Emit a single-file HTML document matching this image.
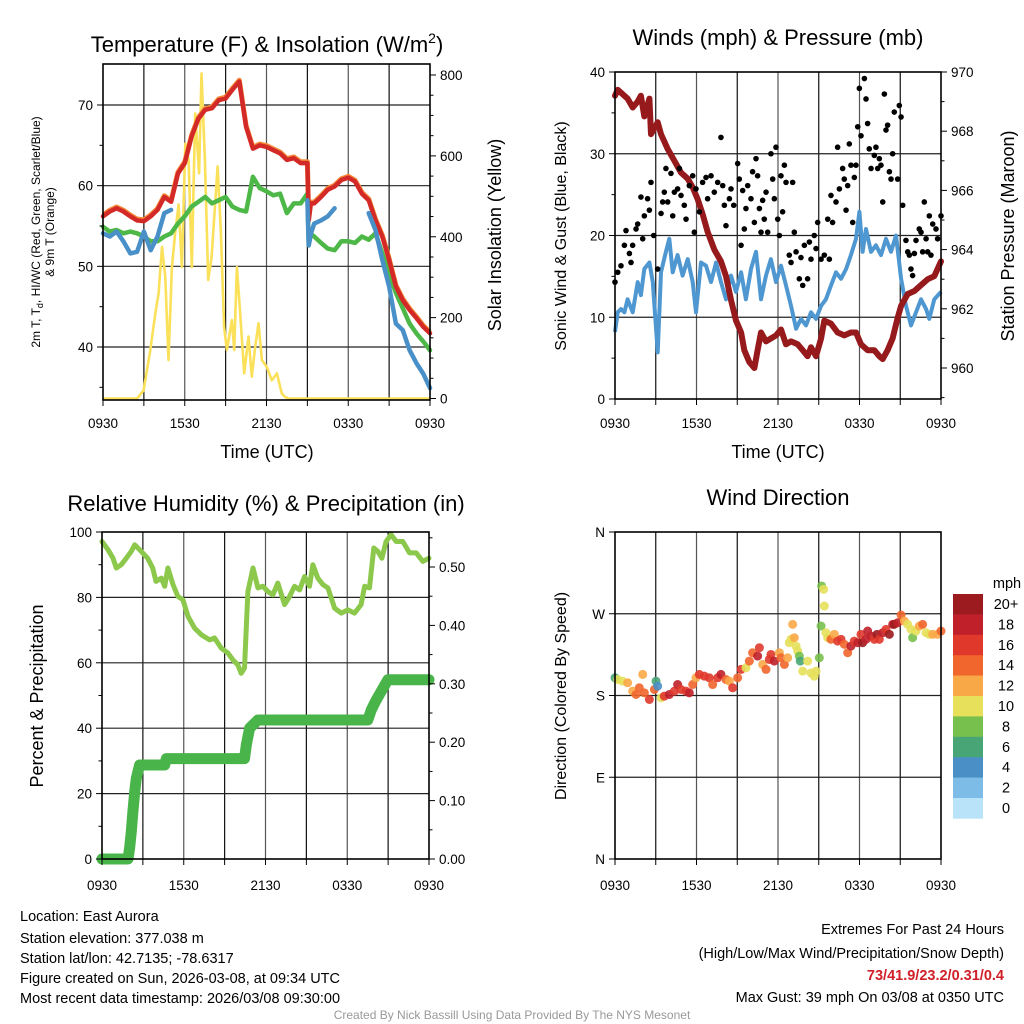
<!DOCTYPE html>
<html><head><meta charset="utf-8"><style>
body{margin:0;background:#fff}
svg{display:block;font-family:"Liberation Sans",Arial,sans-serif}
</style></head><body>
<svg id="s" width="1024" height="1024" viewBox="0 0 1024 1024" xmlns="http://www.w3.org/2000/svg">
<g id="bg"></g>
<text x="267" y="52" font-size="22" text-anchor="middle">Temperature (F) &amp; Insolation (W/m<tspan dy="-9" font-size="14">2</tspan><tspan dy="9">)</tspan></text>
<text x="778" y="45" font-size="22" text-anchor="middle">Winds (mph) &amp; Pressure (mb)</text>
<text x="266" y="511" font-size="22" text-anchor="middle">Relative Humidity (%) &amp; Precipitation (in)</text>
<text x="778" y="505" font-size="22" text-anchor="middle">Wind Direction</text>
<text x="267" y="458" font-size="18" text-anchor="middle">Time (UTC)</text>
<text x="778" y="458" font-size="18" text-anchor="middle">Time (UTC)</text>
<text transform="translate(40,232) rotate(-90)" font-size="12" text-anchor="middle">2m T, T<tspan dy="3" font-size="9">d</tspan><tspan dy="-3">, HI/WC (Red, Green, Scarlet/Blue)</tspan></text>
<text transform="translate(54,232) rotate(-90)" font-size="12" text-anchor="middle">&amp; 9m T (Orange)</text>
<text transform="translate(501,235) rotate(-90)" font-size="18" text-anchor="middle">Solar Insolation (Yellow)</text>
<text transform="translate(566,236) rotate(-90)" font-size="16" text-anchor="middle">Sonic Wind &amp; Gust (Blue, Black)</text>
<text transform="translate(1014,236) rotate(-90)" font-size="18" text-anchor="middle">Station Pressure (Maroon)</text>
<text transform="translate(43,696) rotate(-90)" font-size="18" text-anchor="middle">Percent &amp; Precipitation</text>
<text transform="translate(566,696) rotate(-90)" font-size="16" text-anchor="middle">Direction (Colored By Speed)</text>
<g font-size="14.5">
<text x="20" y="921">Location: East Aurora</text>
<text x="20" y="943">Station elevation: 377.038 m</text>
<text x="20" y="963">Station lat/lon: 42.7135; -78.6317</text>
<text x="20" y="983">Figure created on Sun, 2026-03-08, at 09:34 UTC</text>
<text x="20" y="1003">Most recent data timestamp: 2026/03/08 09:30:00</text>
</g>
<g font-size="14.5" text-anchor="end">
<text x="1004" y="934">Extremes For Past 24 Hours</text>
<text x="1004" y="958">(High/Low/Max Wind/Precipitation/Snow Depth)</text>
<text x="1004" y="980" fill="#d0202a" font-weight="bold">73/41.9/23.2/0.31/0.4</text>
<text x="1004" y="1002">Max Gust: 39 mph On 03/08 at 0350 UTC</text>
</g>
<text x="512" y="1019" font-size="12" fill="#999" text-anchor="middle">Created By Nick Bassill Using Data Provided By The NYS Mesonet</text>
<g id="cb"></g>
</svg>
<script>
// ---- data ----
const xTickLabels = ["0930","1530","2130","0330","0930"];
const tempH = [0,0.5,1,1.5,2,2.5,3,3.5,4,4.5,5,5.5,6,6.5,7,7.5,8,8.5,9,9.5,10,10.5,11,11.5,12,12.5,13,13.5,14,14.5,15,15.1,15.25,15.5,16,16.5,17,17.5,18,18.5,19,19.5,20,20.5,21,21.5,22,22.5,23,23.5,24];
const tempRed = [56.2,56.8,57.2,56.8,56.2,55.7,55.6,56.2,57.0,58.6,58.0,61.5,62.8,66.1,68.3,69.4,69.6,70.6,70.8,71.9,72.9,67.3,64.6,65.0,64.8,64.4,64.0,63.2,63.4,62.8,62.8,55.7,57.8,57.8,58.6,59.5,59.9,60.7,61.0,60.5,59.0,58.2,55.7,53.7,50.8,47.5,45.8,44.6,43.6,42.5,41.7];
const tempGreen = [54.9,54.3,54.5,54.1,54.3,54.1,53.7,53.1,53.1,53.7,54.1,55.3,56.2,57.4,58.0,58.6,57.8,58.2,58.6,57.4,57.0,56.8,61.1,59.7,59.3,58.8,59.0,56.6,57.8,57.8,59.0,52.6,54.0,53.7,52.9,52.2,52.0,53.1,53.1,52.9,53.7,53.3,54.1,51.6,49.1,46.7,44.8,42.9,41.7,40.7,39.6];
const tempBlue = [54.1,53.7,54.3,53.1,51.6,51.8,54.3,52.0,53.7,56.6,57.0,null,null,null,null,null,null,null,null,null,null,null,null,null,null,null,null,null,null,null,58.2,52.6,54.0,55.3,55.7,56.2,57.2,null,null,null,null,56.6,54.5,50.8,47.5,42.9,42.1,39.6,38.0,36.7,34.9];
const solarH = [0,2.5,2.98,3.47,3.84,4.08,4.33,4.57,4.81,5.06,5.3,5.55,5.79,6.04,6.28,6.52,6.77,7.05,7.23,7.48,7.72,7.97,8.41,8.65,8.89,9.09,9.46,9.63,9.83,10.07,10.36,10.68,10.92,11.17,11.41,11.66,12.02,12.39,12.76,13.12,13.37,13.61,24];
const solarW = [0,0,20,120,210,260,375,300,95,325,410,480,325,630,590,325,705,557,804,590,293,350,574,410,177,120,194,120,325,210,62,153,54,128,186,95,78,45,62,12,4,0,0];
const presH = [0,0.2,0.93,1.3,1.67,1.91,2.16,2.53,2.65,3.14,3.39,3.88,4.37,4.86,5.35,5.72,6.09,6.45,6.82,7.31,7.8,8.17,8.54,8.91,9.28,9.52,9.89,10.26,10.5,10.75,11.12,11.48,11.85,12.22,12.59,12.96,13.45,13.82,14.18,14.43,14.8,15.17,15.41,15.9,16.39,16.88,17.37,17.74,18.11,18.6,19.09,19.46,19.71,20.07,20.44,20.81,21.06,21.55,22.04,22.53,23.02,23.51,24];
const presMb = [969.2,969.4,969.1,968.8,969.0,969.2,968.5,969.1,967.9,968.3,967.9,967.4,967.0,966.6,966.4,966.1,965.7,965.2,964.6,964.0,963.6,963.1,962.3,961.6,961.2,960.6,960.2,960.0,960.6,961.2,960.9,961.0,961.1,961.3,960.8,960.9,960.8,960.6,960.4,960.7,960.4,961.0,961.6,961.5,961.2,961.1,961.2,961.2,960.8,960.6,960.6,960.4,960.3,960.6,961.0,961.7,962.1,962.5,962.6,962.8,963.0,963.1,963.6];
const windH = [0,0.2,0.44,0.69,0.93,1.3,1.67,1.91,2.16,2.53,2.78,3.14,3.39,3.75,4.0,4.25,4.61,4.98,5.35,5.72,5.96,6.33,6.7,7.07,7.44,7.8,8.17,8.54,8.91,9.28,9.64,10.01,10.38,10.75,11.12,11.48,11.85,12.22,12.59,12.96,13.33,13.69,14.06,14.43,14.8,15.17,15.53,15.9,16.27,16.64,17.01,17.37,17.74,17.99,18.23,18.48,18.85,19.21,19.58,19.95,20.32,20.69,21.06,21.42,21.79,22.16,22.53,22.9,23.14,23.51,24];
const windMph = [8.2,10.6,11.0,10.6,12.2,10.6,14.3,12.7,15.9,16.7,14.3,5.7,15.5,18.0,19.6,15.5,17.6,15.1,17.1,14.3,10.6,16.7,16.3,14.3,16.7,14.3,12.2,15.1,13.1,15.5,12.2,15.9,18.0,12.2,15.1,17.1,14.3,16.3,13.9,11.4,8.6,9.8,9.0,10.6,9.8,11.4,12.2,13.9,15.5,14.7,15.9,17.6,19.6,22.9,18.0,20.8,18.0,18.8,17.6,19.6,18.0,20.0,14.7,11.4,9.0,10.6,12.2,11.0,9.8,12.2,13.1];
const gustH = [0,0.2,0.44,0.69,0.81,1.06,1.18,1.3,1.55,1.67,1.91,2.04,2.16,2.4,2.53,2.65,2.85,3.14,3.39,3.51,3.63,3.75,3.88,4.12,4.25,4.37,4.61,4.74,4.86,5.1,5.23,5.47,5.72,5.84,5.96,6.21,6.45,6.7,6.82,7.07,7.31,7.56,7.8,7.93,8.05,8.17,8.42,8.54,8.74,9.03,9.15,9.28,9.4,9.52,9.64,9.77,10.01,10.13,10.26,10.38,10.5,10.63,10.75,10.87,10.99,11.12,11.24,11.48,11.61,11.73,11.85,11.98,12.1,12.22,12.34,12.47,12.59,12.83,12.96,13.08,13.2,13.33,13.57,13.69,13.82,13.94,14.18,14.31,14.43,14.67,14.8,14.92,15.17,15.41,15.66,15.78,15.9,16.02,16.27,16.39,16.52,16.76,16.88,17.01,17.13,17.25,17.37,17.5,17.62,17.74,17.87,17.99,18.11,18.36,18.48,18.6,18.72,18.85,19.09,19.21,19.34,19.46,19.58,19.71,19.83,19.95,20.07,20.2,20.32,20.44,20.56,20.81,20.93,21.06,21.18,21.42,21.55,21.67,21.79,21.91,22.04,22.16,22.4,22.53,22.65,22.77,22.9,23.02,23.14,23.26,23.39,23.63,23.75,24];
const gustMph = [14.3,15.5,16.3,18.8,20.6,17.8,16.7,18.8,20.8,21.4,24.7,19.6,22.4,24.5,23.1,26.5,20.0,15.9,22.7,24.1,25.3,28.2,24.1,27.6,22.4,25.3,25.7,28.2,24.9,23.7,22.0,26.1,27.3,20.4,25.7,22.9,26.5,27.1,24.5,27.3,25.3,26.5,32.0,26.1,23.7,21.2,24.5,25.7,23.7,28.8,26.9,18.8,25.5,20.8,23.3,26.1,24.5,27.8,21.6,29.4,27.3,23.3,20.4,24.3,22.0,25.3,20.4,30.0,26.9,24.5,30.8,22.0,20.0,27.3,22.9,28.6,26.5,17.6,16.7,26.5,20.4,18.0,14.7,17.3,13.9,18.8,14.7,19.2,17.1,20.0,18.4,21.6,17.1,17.6,22.0,17.1,24.9,21.6,24.1,30.8,25.7,28.2,26.9,23.1,26.1,31.2,28.6,21.6,27.1,28.6,33.3,38.0,32.2,39.2,36.7,33.7,30.6,28.2,29.8,30.8,28.2,29.4,28.6,24.1,37.3,32.9,33.5,27.8,26.9,30.0,35.1,26.9,35.9,34.5,23.7,19.4,18.0,17.6,15.9,15.1,17.8,19.4,20.8,20.4,18.0,24.1,19.6,18.0,22.4,17.6,21.4,20.8,19.6,22.4];
const rhH = [0,0.44,0.81,1.05,1.42,1.78,2.15,2.4,2.87,3.35,3.72,3.96,4.35,4.6,4.84,5.21,5.57,5.94,6.31,6.8,7.29,7.9,8.26,8.75,9.24,9.61,9.97,10.22,10.46,10.71,11.08,11.44,11.81,12.17,12.54,12.9,13.4,13.77,14.13,14.5,14.87,15.23,15.48,15.84,16.21,16.58,17.07,17.56,18.04,18.53,19.02,19.27,19.63,19.95,20.24,20.54,20.85,21.22,21.59,22.08,22.57,23.06,23.55,24];
const rhPct = [97.1,94.6,92.0,89.0,90.0,92.0,94.1,96.1,94.1,92.0,89.0,84.9,85.9,83.4,89.0,83.9,80.3,79.3,74.2,70.6,68.6,67.0,67.6,64.5,63.0,60.9,59.4,56.8,58.4,81.8,89.0,82.9,83.4,81.8,80.8,84.4,77.8,80.3,83.4,82.3,86.4,83.4,90.0,85.9,83.9,82.9,76.7,75.2,76.2,75.2,77.8,83.4,82.9,95.1,94.1,92.0,97.1,99.2,97.1,97.1,93.6,93.6,91.0,92.0];
const pcpH = [0,1.91,2.03,2.15,2.27,2.40,2.52,2.76,4.6,4.72,10.46,10.59,10.83,11.44,19.51,19.76,20.12,20.49,20.98,24];
const pcpIn = [0,0,0.02,0.047,0.081,0.115,0.138,0.161,0.161,0.172,0.172,0.195,0.224,0.238,0.238,0.255,0.272,0.287,0.307,0.307];
const dirH = [0,0.2,0.56,0.93,1.3,1.55,1.79,2.04,2.16,2.53,2.9,3.02,3.14,3.39,3.63,4.0,4.37,4.61,4.86,5.23,5.47,5.72,5.96,6.21,6.58,6.94,7.19,7.56,7.8,8.17,8.42,8.66,9.03,9.28,9.64,9.89,10.13,10.5,10.63,10.87,11.12,11.36,11.48,11.73,12.1,12.22,12.47,12.71,12.83,12.96,13.08,13.2,13.33,13.45,13.57,13.64,13.82,14.18,14.43,14.67,14.8,15.04,15.17,15.21,15.36,15.41,15.53,15.66,15.9,16.15,16.39,16.64,16.88,17.13,17.37,17.62,17.87,18.11,18.23,18.48,18.6,18.85,19.09,19.29,19.46,19.71,19.95,20.2,20.44,20.56,20.81,21.06,21.3,21.55,21.79,21.91,22.16,22.4,22.65,22.9,23.14,23.39,23.75,24];
const dirDeg = [199.5,197.6,195.8,194.0,184.8,181.1,188.5,203.2,182.9,175.6,186.6,195.8,190.3,177.4,179.3,181.1,184.8,192.1,186.6,184.8,182.9,192.1,199.5,203.2,201.3,199.5,192.1,199.5,203.2,197.6,195.8,188.5,199.5,208.7,210.5,217.9,227.1,223.4,232.6,214.2,208.7,219.7,225.2,217.9,227.1,221.5,214.2,221.5,238.1,241.8,258.3,243.6,234.4,228.9,223.4,217.9,206.8,217.9,204.8,201.3,206.8,221.5,256.5,300.6,296.9,278.5,249.1,243.6,241.8,247.3,239.9,241.8,236.3,227.1,234.4,239.9,238.1,247.3,238.1,241.8,251.0,245.4,241.8,247.3,241.8,249.1,252.8,247.3,258.3,258.3,260.1,268.6,262.0,258.3,252.8,243.6,251.0,256.5,258.3,249.1,247.3,247.3,247.3,251.0];
const dirSpd = [6,10,10,12,12,14,14,12,14,16,14,6,4,10,16,18,16,18,16,16,18,14,12,16,16,16,14,16,18,14,12,16,14,16,10,14,14,18,16,12,14,16,16,18,12,14,14,12,10,10,12,12,10,10,8,6,10,10,10,10,10,8,8,8,10,10,10,10,14,12,16,16,14,14,18,16,18,16,20,18,18,18,16,20,16,18,16,20,18,20,18,14,12,10,10,8,10,12,14,10,10,12,12,14];
const cbLabels = ["20+","18","16","14","12","10","8","6","4","2","0"];
const cbColors = ["#9b1b1e","#c0202a","#e0392b","#f1662c","#f9a847","#e6e05a","#78c04e","#48a676","#4a8fc6","#7dbce6","#b8e3f8"];

// ---- helpers ----
const NS="http://www.w3.org/2000/svg";
const svg=document.getElementById('s');
function el(tag,attrs,parent){const e=document.createElementNS(NS,tag);for(const k in attrs)e.setAttribute(k,attrs[k]);(parent||svg).appendChild(e);return e;}
function lin(d0,d1,r0,r1){return v=>r0+(v-d0)/(d1-d0)*(r1-r0);}
function pathFrom(xs,ys,sx,sy){let d="",pen=false;for(let i=0;i<xs.length;i++){if(ys[i]===null||ys[i]===undefined){pen=false;continue;}d+=(pen?"L":"M")+sx(xs[i]).toFixed(1)+","+sy(ys[i]).toFixed(1);pen=true;}return d;}

function panel(name,L,R,T,B){
  const g=el('g',{});
  
  
  return g;
}
function frame(name,L,R,T,B,ylinesPx){
  const g=panel(name,L,R,T,B);
  const sx=lin(0,24,L,R);
  for(let h=3;h<24;h+=3){const l=el('line',{x1:sx(h),x2:sx(h),y1:T,y2:B,stroke:(h%6==0?'#555':'#111'),'stroke-width':1.2},g);}
  ylinesPx.forEach(y=>{const l=el('line',{x1:L,x2:R,y1:y,y2:y,stroke:'#222','stroke-width':1.2},g);});
  return sx;
}
function border(L,R,T,B){const r=el('rect',{x:L,y:T,width:R-L,height:B-T,fill:'none',stroke:'#000','stroke-width':1.6});}
function xticks(sx,B,labY){
  for(let h=0;h<=24;h+=3){el('line',{x1:sx(h),x2:sx(h),y1:B,y2:B+6,stroke:'#000','stroke-width':1});}
  xTickLabels.forEach((t,i)=>{const e=el('text',{x:sx(i*6),y:labY,'font-size':13.5,'text-anchor':'middle'});e.textContent=t;});
}
function yticks(vals,sy,x,side,labels,minor){
  const dir=side==='left'?-1:1;
  vals.forEach((v,i)=>{el('line',{x1:x,x2:x+dir*6,y1:sy(v),y2:sy(v),stroke:'#000','stroke-width':1});
    const e=el('text',{x:x+dir*10,y:sy(v)+5,'font-size':13.5,'text-anchor':side==='left'?'end':'start'});e.textContent=labels[i];
    });
  (minor||[]).forEach(v=>el('line',{x1:x,x2:x+dir*3.5,y1:sy(v),y2:sy(v),stroke:'#000','stroke-width':1}));
}

// ---- Panel 1: temperature ----
(function(){
  const L=103,R=430,T=64,B=400;
  const sy=lin(40,70,347,105), sw=lin(0,800,398.5,75);
  const sx=frame('temperature',L,R,T,B,[sy(40),sy(50),sy(60),sy(70)]);
  const p=[];
  const y=el('path',{d:pathFrom(solarH,solarW,sx,sw),fill:'none',stroke:'#fbe05a','stroke-width':2.6,'stroke-linejoin':'round'});
  
  const o=el('path',{d:pathFrom(tempH,tempRed,sx,v=>sy(v)-1.3),fill:'none',stroke:'#f58a3a','stroke-width':5,'stroke-linejoin':'round'});
  
  const g=el('path',{d:pathFrom(tempH,tempGreen,sx,sy),fill:'none',stroke:'#4db848','stroke-width':4.5,'stroke-linejoin':'round','stroke-linecap':'round'});
  
  const r=el('path',{d:pathFrom(tempH,tempRed,sx,sy),fill:'none',stroke:'#d42a27','stroke-width':4.5,'stroke-linejoin':'round','stroke-linecap':'round'});
  
  const b=el('path',{d:pathFrom(tempH,tempBlue,sx,sy),fill:'none',stroke:'#4a90c8','stroke-width':4.5,'stroke-linejoin':'round','stroke-linecap':'round'});
  
  border(L,R,T,B);
  xticks(sx,B,428);
  yticks([40,50,60,70],sy,L,'left',["40","50","60","70"],[35,45,55,65]);
  yticks([0,200,400,600,800],sw,R,'right',["0","200","400","600","800"],[50,100,150,250,300,350,450,500,550,650,700,750]);
})();

// ---- Panel 2: winds & pressure ----
(function(){
  const L=615,R=941,T=72,B=399;
  const sy=lin(0,40,B,72), sp=lin(960,970,368,72);
  const sx=frame('winds',L,R,T,B,[sy(10),sy(20),sy(30)]);
  const w=el('path',{d:pathFrom(windH,windMph,sx,sy),fill:'none',stroke:'#4f97d0','stroke-width':4,'stroke-linejoin':'round'});
  
  const p=el('path',{d:pathFrom(presH,presMb,sx,sp),fill:'none',stroke:'#961a1c','stroke-width':6,'stroke-linejoin':'round','stroke-linecap':'round'});
  
  gustH.forEach((h,i)=>{const c=el('circle',{cx:sx(h),cy:sy(gustMph[i]),r:2.8,fill:'#000'});
    
    });
  border(L,R,T,B);
  xticks(sx,B,428);
  yticks([0,10,20,30,40],sy,L,'left',["0","10","20","30","40"],[5,15,25,35]);
  yticks([960,962,964,966,968,970],sp,R,'right',["960","962","964","966","968","970"],[959,961,963,965,967,969]);
})();

// ---- Panel 3: RH & precip ----
(function(){
  const L=102,R=429,T=532,B=859;
  const sy=lin(0,100,B,T), sp=lin(0,0.5,B,567);
  const sx=frame('humidity',L,R,T,B,[sy(20),sy(40),sy(60),sy(80)]);
  const r=el('path',{d:pathFrom(rhH,rhPct,sx,sy),fill:'none',stroke:'#8cc84b','stroke-width':5,'stroke-linejoin':'round','stroke-linecap':'round'});
  
  const p=el('path',{d:pathFrom(pcpH,pcpIn,sx,sp),fill:'none',stroke:'#49b44a','stroke-width':11,'stroke-linejoin':'round','stroke-linecap':'round'});
  
  border(L,R,T,B);
  xticks(sx,B,890);
  yticks([0,20,40,60,80,100],sy,L,'left',["0","20","40","60","80","100"],[10,30,50,70,90]);
  yticks([0,0.1,0.2,0.3,0.4,0.5],sp,R,'right',["0.00","0.10","0.20","0.30","0.40","0.50"],[0.05,0.15,0.25,0.35,0.45,0.55]);
})();

// ---- Panel 4: wind direction ----
(function(){
  const L=615,R=941,T=532,B=859;
  const sy=lin(0,360,B,T);
  const sx=frame('wind-direction',L,R,T,B,[sy(90),sy(180),sy(270)]);
  function col(s){const idx=Math.min(10,Math.floor(s/2));return cbColors[10-idx];}
  dirH.forEach((h,i)=>{const c=el('circle',{cx:sx(h),cy:sy(dirDeg[i]),r:4.5,fill:col(dirSpd[i]),'fill-opacity':0.9});
    
    });
  border(L,R,T,B);
  xticks(sx,B,890);
  yticks([0,90,180,270,360],sy,L,'left',["N","E","S","W","N"],[]);
  // colorbar
  const cb=document.getElementById('cb');
  const top=594,bh=20.4;
  cbColors.forEach((c,i)=>{const r=el('rect',{x:953,y:top+i*bh,width:30,height:bh+0.3,fill:c},cb);
    
    
    const t=el('text',{x:1006,y:top+i*bh+15,'font-size':14.5,'text-anchor':'middle'},cb);t.textContent=cbLabels[i];
    
    });
  const m=el('text',{x:1007,y:588,'font-size':14.5,'text-anchor':'middle'},cb);m.textContent="mph";
  
  
})();
</script>
</body></html>
